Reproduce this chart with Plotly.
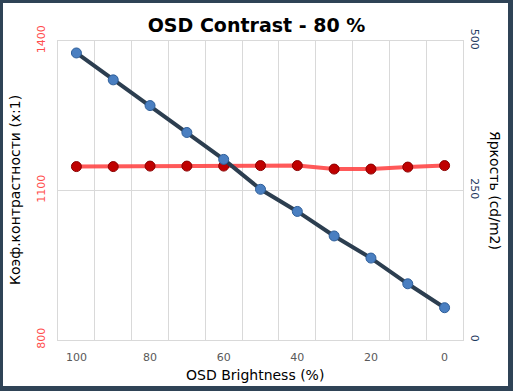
import plotly.graph_objects as go

brightness_pct = [100, 90, 80, 70, 60, 50, 40, 30, 20, 10, 0]
contrast = [1148, 1148, 1149, 1149, 1149, 1150, 1150, 1143, 1143, 1147, 1150]
luminance = [480, 435, 392, 347, 302, 252, 215, 174, 137, 94, 54]

x_ticks = [100, 80, 60, 40, 20, 0]
left_ticks = [800, 1100, 1400]
right_ticks = [0, 250, 500]

W, H = 513, 391
ML, MR, MT, MB = 58, 50, 41, 51
PW, PH = W - ML - MR, H - MT - MB

def px(x):
    return (x - ML) / PW

def py(y):
    return (H - MB - y) / PH

fig = go.Figure()
fig.add_trace(go.Scatter(
    x=brightness_pct, y=contrast, yaxis="y", mode="lines+markers",
    line=dict(color="rgba(255,60,60,0.85)", width=4),
    marker=dict(color="#c00000", size=10, line=dict(color="#8b0000", width=1)),
    showlegend=False))
fig.add_trace(go.Scatter(
    x=brightness_pct, y=luminance, yaxis="y2", mode="lines+markers",
    line=dict(color="#2c3e50", width=4),
    marker=dict(color="#4a7fc1", size=10, line=dict(color="#2f5f9a", width=1)),
    showlegend=False))

font = "DejaVu Sans"
fig.update_layout(
    width=W, height=H,
    margin=dict(l=ML, r=MR, t=MT, b=MB),
    paper_bgcolor="#2f4356", plot_bgcolor="white",
    font=dict(family=font),
    title=dict(text="<b>OSD Contrast - 80 %</b>", x=0.5, xanchor="center",
               y=1 - 25 / H, yanchor="middle", yref="container",
               font=dict(size=19, color="black", family=font)),
    xaxis=dict(range=[105, -5], tickmode="array", tickvals=x_ticks,
               showgrid=False, zeroline=False, ticks="",
               showline=True, linecolor="#d9d9d9", mirror=True,
               ticklabelstandoff=7,
               tickfont=dict(size=11, color="#595959"),
               minor=dict(tickmode="array", tickvals=list(range(-5, 106, 10)),
                          showgrid=True, gridcolor="#d9d9d9", gridwidth=1, ticks="")),
    yaxis=dict(range=[800, 1400], tickmode="array", tickvals=left_ticks,
               showgrid=True, gridcolor="#d9d9d9", zeroline=False, ticks="",
               showline=True, linecolor="#d9d9d9", mirror=True,
               ticklabelstandoff=8,
               tickangle=-90, tickfont=dict(size=11, color="#ff4d4d")),
    yaxis2=dict(range=[0, 500], tickmode="array", tickvals=right_ticks,
                overlaying="y", side="right", showgrid=False, zeroline=False,
                ticks="", tickangle=90, ticklabelstandoff=5,
                tickfont=dict(size=11, color="#1f3a5f")),
)

# white card inside dark frame
fig.add_shape(type="rect", xref="paper", yref="paper", layer="below",
              x0=px(3), x1=px(508), y0=py(386), y1=py(3),
              fillcolor="white", line=dict(width=0))

fig.add_annotation(text="OSD Brightness (%)", xref="paper", yref="paper",
                   x=px(255), y=py(375), xanchor="center", yanchor="middle",
                   showarrow=False, font=dict(size=14, color="black"))
fig.add_annotation(text="Коэф.контрастности (x:1)", xref="paper", yref="paper",
                   x=px(15), y=py(190), xanchor="center", yanchor="middle",
                   showarrow=False, textangle=-90,
                   font=dict(size=14, color="black"))
fig.add_annotation(text="Яркость (cd/m2)", xref="paper", yref="paper",
                   x=px(495), y=py(190), xanchor="center", yanchor="middle",
                   showarrow=False, textangle=90,
                   font=dict(size=14, color="black"))

fig.write_html("out.html", config={"displayModeBar": False},
               post_script="document.body.style.margin='0';document.body.style.padding='0';")
